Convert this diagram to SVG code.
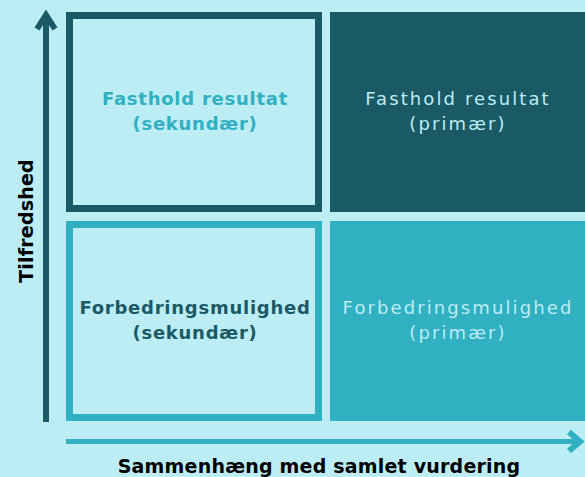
<svg xmlns="http://www.w3.org/2000/svg" width="585" height="477" viewBox="0 0 585 477">
<style>
.t{font-family:"DejaVu Sans",Verdana,sans-serif;font-size:18px;text-anchor:middle;letter-spacing:2.1px}
.b{font-weight:bold;letter-spacing:0.75px}
.axis{font-family:"DejaVu Sans",Verdana,sans-serif;font-size:19px;font-weight:bold;fill:#000;text-anchor:middle;letter-spacing:0.2px}
</style>
<rect width="585" height="477" fill="#BCEDF5"/>
<g id="connectors">
<line x1="46" y1="422" x2="46" y2="16" stroke="#1A5A66" stroke-width="6"/>
<polyline points="37,29 46,15 55,29" fill="none" stroke="#1A5A66" stroke-width="6"/>
<line x1="66" y1="441.5" x2="580" y2="441.5" stroke="#30B0C0" stroke-width="5"/>
<polyline points="569,432 580,441.5 569,451" fill="none" stroke="#30B0C0" stroke-width="6"/>
</g>
<g id="q-tl">
<rect x="69.5" y="15.5" width="249" height="193" fill="none" stroke="#1A5A66" stroke-width="7"/>
<text class="t b" x="195" y="105" fill="#30B0C0">Fasthold resultat</text>
<text class="t b" x="195" y="130" fill="#30B0C0">(sekundær)</text>
</g>
<g id="q-tr">
<rect x="330" y="12" width="255" height="200" fill="#1A5A66"/>
<text class="t" x="458" y="105" fill="#BCEDF5">Fasthold resultat</text>
<text class="t" x="458" y="130" fill="#BCEDF5">(primær)</text>
</g>
<g id="q-bl">
<rect x="69.5" y="224.5" width="249" height="193" fill="none" stroke="#30B0C0" stroke-width="7"/>
<text class="t b" x="195" y="314" fill="#1A5A66">Forbedringsmulighed</text>
<text class="t b" x="195" y="339" fill="#1A5A66">(sekundær)</text>
</g>
<g id="q-br">
<rect x="330" y="221" width="255" height="200" fill="#30B0C0"/>
<text class="t" x="458" y="314" fill="#BCEDF5">Forbedringsmulighed</text>
<text class="t" x="458" y="339" fill="#BCEDF5">(primær)</text>
</g>
<g id="labels">
<text class="axis" transform="translate(33,221) rotate(-90)">Tilfredshed</text>
<text class="axis" x="319" y="473">Sammenhæng med samlet vurdering</text>
</g>
</svg>
